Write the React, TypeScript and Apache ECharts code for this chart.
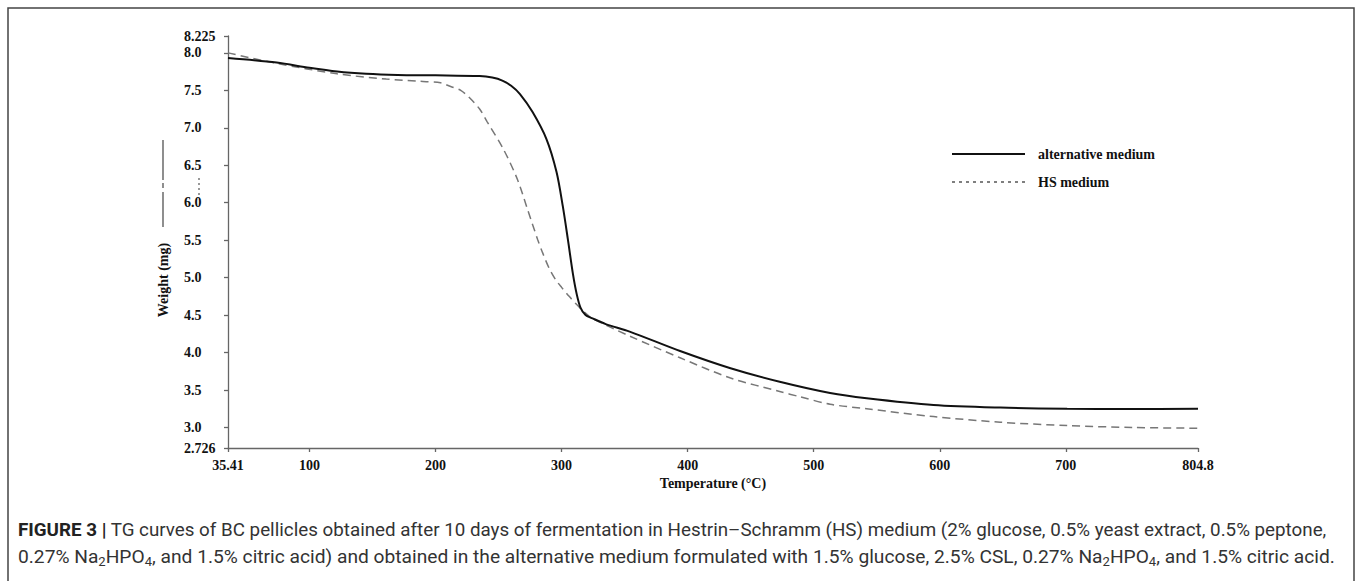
import React, { useEffect, useRef } from "react";
import * as echarts from "echarts";

// ---- data ----
const tempTicks = [35.41, 100, 200, 300, 400, 500, 600, 700, 804.8];
const tempTickLabels = ["35.41", "100", "200", "300", "400", "500", "600", "700", "804.8"];
const weightTicks = [2.726, 3.0, 3.5, 4.0, 4.5, 5.0, 5.5, 6.0, 6.5, 7.0, 7.5, 8.0, 8.225];
const weightTickLabels = ["2.726", "3.0", "3.5", "4.0", "4.5", "5.0", "5.5", "6.0", "6.5", "7.0", "7.5", "8.0", "8.225"];

const seriesNames = ["alternative medium", "HS medium"];

const altTemp = [35.41, 74, 100, 122, 145, 170, 200, 235, 245, 253, 260, 267, 277, 288, 296, 301, 305, 309, 312, 315, 319, 324, 335, 354, 394, 434, 473, 513, 542, 595, 648, 701, 750, 804.8];
const altWeight = [7.93, 7.87, 7.8, 7.75, 7.72, 7.705, 7.7, 7.69, 7.67, 7.63, 7.56, 7.45, 7.21, 6.85, 6.41, 5.95, 5.51, 5.05, 4.78, 4.6, 4.5, 4.46, 4.38, 4.28, 4.02, 3.79, 3.61, 3.46, 3.39, 3.3, 3.265, 3.25, 3.245, 3.25];

const hsTemp = [35.41, 74, 122, 161, 188, 204, 212, 220, 227, 235, 241, 254, 265, 273, 281, 285, 290, 295, 300, 306, 312, 318, 324, 354, 394, 434, 473, 489, 513, 542, 595, 648, 701, 753, 804.8];
const hsWeight = [8.0, 7.86, 7.72, 7.65, 7.62, 7.6, 7.55, 7.5, 7.4, 7.25, 7.08, 6.71, 6.31, 5.91, 5.51, 5.33, 5.13, 4.98, 4.87, 4.75, 4.64, 4.54, 4.46, 4.22, 3.93, 3.66, 3.48, 3.41, 3.31, 3.25, 3.145, 3.07, 3.025, 3.0, 2.99];

const xAxisName = "Temperature (°C)";
const yAxisName = "Weight (mg)";
const captionLine1 = "{b|FIGURE 3 |} TG curves of BC pellicles obtained after 10 days of fermentation in Hestrin–Schramm (HS) medium (2% glucose, 0.5% yeast extract, 0.5% peptone,";
const captionLine2 = "0.27% Na{s|2}HPO{s|4}, and 1.5% citric acid) and obtained in the alternative medium formulated with 1.5% glucose, 2.5% CSL, 0.27% Na{s|2}HPO{s|4}, and 1.5% citric acid.";

const zip = (xs: number[], ys: number[]) => xs.map((x, i) => [x, ys[i]]);
const labelFor = (ticks: number[], labels: string[]) => (v: number) => {
  const i = ticks.findIndex((t) => Math.abs(t - v) < 1e-6);
  return i >= 0 ? labels[i] : "";
};

const SERIF = "'Liberation Serif', 'Times New Roman', serif";
const SANS = "Roboto, 'Liberation Sans', sans-serif";

export default function App() {
  const ref = useRef<HTMLDivElement>(null);
  useEffect(() => {
    if (!ref.current) return;
    const chart = echarts.init(ref.current, null, { renderer: "svg" });
    const axisColor = "#666";
    const tickFont = { fontFamily: SERIF, fontWeight: "bold" as const, fontSize: 14, color: "#111" };
    const makeRich = (size: number) => ({
      b: { fontWeight: "bold", fontFamily: SANS, fontSize: size, fill: "#222" },
      s: { fontFamily: SANS, fontSize: size * 0.68, fill: "#333", verticalAlign: "bottom", lineHeight: 12 },
    });
    const cap1 = 18.8;
    const cap2 = 19.2;
    chart.setOption({
      animation: false,
      backgroundColor: "#fff",
      grid: { left: 228, right: 159, top: 36, bottom: 133, containLabel: false },
      xAxis: {
        type: "value",
        min: 35.41,
        max: 804.8,
        axisLine: { lineStyle: { color: axisColor, width: 1.3 } },
        axisTick: { show: true, length: 4, customValues: tempTicks, lineStyle: { color: axisColor, width: 1.3 } },
        axisLabel: { customValues: tempTicks, formatter: labelFor(tempTicks, tempTickLabels), margin: 10, ...tickFont },
        splitLine: { show: false },
        name: xAxisName,
        nameLocation: "middle",
        nameGap: 28,
        nameTextStyle: { ...tickFont },
      },
      yAxis: {
        type: "value",
        min: 2.726,
        max: 8.225,
        axisLine: { show: true, lineStyle: { color: axisColor, width: 1.3 } },
        axisTick: { show: true, length: 4, customValues: weightTicks, lineStyle: { color: axisColor, width: 1.3 } },
        axisLabel: { customValues: weightTicks, formatter: labelFor(weightTicks, weightTickLabels), margin: 44, align: "left", ...tickFont },
        splitLine: { show: false },
      },
      series: [
        {
          name: seriesNames[0],
          type: "line",
          data: zip(altTemp, altWeight),
          showSymbol: false,
          symbol: "none",
          smooth: 0.3,
          lineStyle: { color: "#111", width: 2 },
          z: 3,
        },
        {
          name: seriesNames[1],
          type: "line",
          data: zip(hsTemp, hsWeight),
          showSymbol: false,
          symbol: "none",
          smooth: 0.3,
          lineStyle: { color: "#777", width: 1.5, type: [8, 5] },
          z: 2,
        },
      ],
      graphic: [
        {
          type: "rect",
          shape: { x: 8, y: 8, width: 1346, height: 640 },
          style: { fill: "none", stroke: "#444", lineWidth: 1.5 },
          silent: true,
        },
        // legend
        { type: "line", shape: { x1: 952, y1: 154, x2: 1025, y2: 154 }, style: { stroke: "#111", lineWidth: 2 } },
        { type: "line", shape: { x1: 952, y1: 182, x2: 1025, y2: 182 }, style: { stroke: "#555", lineWidth: 1.5, lineDash: [3, 4] } },
        { type: "text", x: 1038, y: 154, style: { text: seriesNames[0], fontFamily: SERIF, fontWeight: "bold", fontSize: 14, fill: "#111", verticalAlign: "middle", align: "left" } },
        { type: "text", x: 1038, y: 182, style: { text: seriesNames[1], fontFamily: SERIF, fontWeight: "bold", fontSize: 14, fill: "#111", verticalAlign: "middle", align: "left" } },
        // y axis title
        {
          type: "text",
          x: 163,
          y: 280,
          rotation: Math.PI / 2,
          style: { text: yAxisName, fontFamily: SERIF, fontWeight: "bold", fontSize: 14, fill: "#111", align: "center", verticalAlign: "middle" },
        },
        // stray marks beside axis title
        { type: "line", shape: { x1: 163, y1: 140, x2: 163, y2: 180 }, style: { stroke: "#444", lineWidth: 1.2 } },
        { type: "line", shape: { x1: 163, y1: 183, x2: 163, y2: 188 }, style: { stroke: "#444", lineWidth: 1.2 } },
        { type: "line", shape: { x1: 163, y1: 192, x2: 163, y2: 227 }, style: { stroke: "#444", lineWidth: 1.2 } },
        { type: "line", shape: { x1: 199, y1: 178, x2: 199, y2: 195 }, style: { stroke: "#555", lineWidth: 1.2, lineDash: [2, 3] } },
        // caption
        {
          type: "text",
          x: 18,
          y: 518,
          style: { text: captionLine1, rich: makeRich(cap1), fontFamily: SANS, fontSize: cap1, fill: "#333", lineHeight: 24, verticalAlign: "top", align: "left" },
        },
        {
          type: "text",
          x: 18,
          y: 544,
          style: { text: captionLine2, rich: makeRich(cap2), fontFamily: SANS, fontSize: cap2, fill: "#333", lineHeight: 24, verticalAlign: "top", align: "left" },
        },
      ],
    });
    return () => chart.dispose();
  }, []);
  return <div ref={ref} style={{ position: "fixed", left: 0, top: 0, width: 1357, height: 581 }} />;
}
